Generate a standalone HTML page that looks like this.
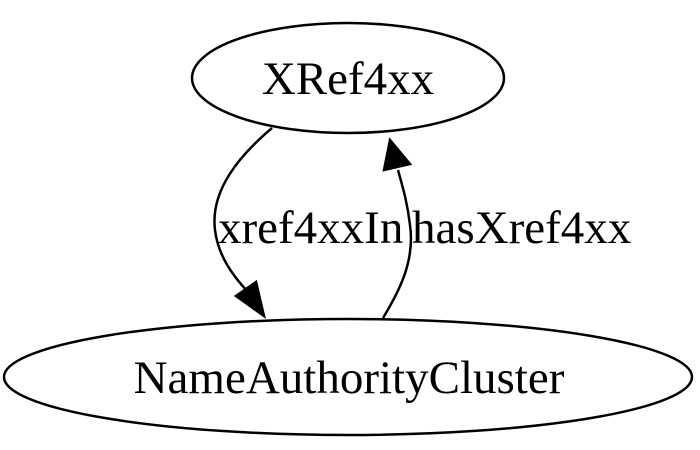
<!DOCTYPE html>
<html><head><meta charset="utf-8"><style>html,body{margin:0;padding:0;background:#fff;}svg{display:block}</style></head>
<body>
<svg width="700" height="450" viewBox="0 0 700 450" xmlns="http://www.w3.org/2000/svg">
<rect width="700" height="450" fill="#fff"/>
<g fill="none" stroke="#000" stroke-width="2.5">
<ellipse cx="348" cy="78" rx="156" ry="55"/>
<ellipse cx="348" cy="377" rx="344" ry="58"/>
<path d="M272,128 C240,155 210,190 215,230 C218,255 232,275 248,292"/>
<path d="M383,318 C400,290 415,260 410,225 C407,200 402,185 398,170"/>
</g>
<polygon points="236,296 264,316 256,282" fill="#000" stroke="#000" stroke-width="2.5"/>
<polygon points="384,170 410,164 390,140" fill="#000" stroke="#000" stroke-width="2.5"/>
<g font-family="'Liberation Serif', serif" font-size="47" fill="#000">
<text x="348" y="94" text-anchor="middle">XRef4xx</text>
<text x="349" y="393" text-anchor="middle">NameAuthorityCluster</text>
<text x="218" y="243">xref4xxIn</text>
<text x="412" y="243">hasXref4xx</text>
</g>
</svg>
</body></html>
